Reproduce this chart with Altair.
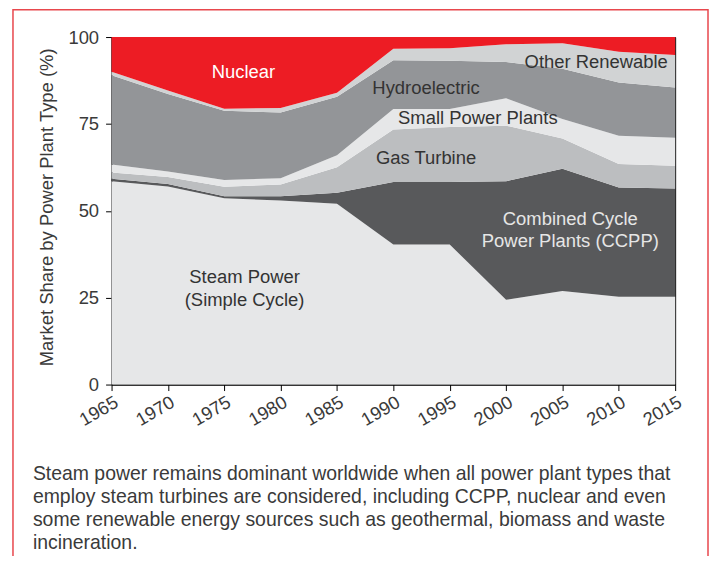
import altair as alt
import pandas as pd

years = [1965, 1970, 1975, 1980, 1985, 1990, 1995, 2000, 2005, 2010, 2015]

series = ["Steam Power", "Combined Cycle", "Gas Turbine", "Small Power Plants",
          "Hydroelectric", "Other Renewable", "Nuclear"]
colors = ["#e6e7e8", "#58595b", "#bcbec0", "#e6e7e8", "#939598", "#d1d3d4", "#ed1c24"]

steam = [58.5, 57.0, 53.6, 53.0, 52.0, 40.3, 40.3, 24.4, 26.9, 25.3, 25.3]
ccpp = [0.7, 0.7, 0.6, 1.2, 3.2, 18.0, 18.0, 34.1, 35.2, 31.4, 31.1]
gas = [1.8, 2.0, 2.7, 3.4, 7.3, 15.1, 15.8, 16.0, 8.7, 6.8, 6.6]
small = [2.3, 1.6, 2.0, 1.8, 3.5, 5.9, 5.2, 7.9, 5.6, 8.1, 8.0]
hydro = [25.7, 22.3, 19.9, 18.9, 16.8, 14.0, 13.9, 10.4, 14.5, 15.3, 14.5]
other = [1.0, 1.0, 0.6, 1.3, 1.2, 3.3, 3.6, 5.1, 7.3, 8.9, 9.3]
nuclear = [10.0, 15.4, 20.6, 20.4, 16.0, 3.4, 3.2, 2.1, 1.8, 4.2, 5.2]
values = [steam, ccpp, gas, small, hydro, other, nuclear]

label_text = ["Nuclear", "Hydroelectric", "Small Power Plants", "Gas Turbine",
              "Other Renewable", "Combined Cycle\nPower Plants (CCPP)",
              "Steam Power\n(Simple Cycle)"]
label_year = [1976.7, 1992.9, 1997.5, 1992.9, 2008.0, 2005.7, 1976.8]
label_pct = [88.2, 83.7, 75.1, 63.5, 91.2, 46.0, 29.1]
label_color = ["#ffffff", "#333333", "#333333", "#333333", "#333333", "#e6e6e6", "#333333"]

y_ticks = [0, 25, 50, 75, 100]
y_title = "Market Share by Power Plant Type (%)"
caption = ["Steam power remains dominant worldwide when all power plant types that",
           "employ steam turbines are considered, including CCPP, nuclear and even",
           "some renewable energy sources such as geothermal, biomass and waste",
           "incineration."]

rows = []
for i, (name, vals) in enumerate(zip(series, values)):
    for yr, v in zip(years, vals):
        rows.append({"year": yr, "series": name, "share": v, "order": i})
df = pd.DataFrame(rows)

labels_df = pd.DataFrame({"label": label_text, "year": label_year,
                          "share": label_pct, "color": label_color})

FONT = "Liberation Sans"
TXT = "#3a3a3a"

xscale = alt.Scale(domain=[1965, 2015], nice=False, zero=False)
yscale = alt.Scale(domain=[0, 100], nice=False)

xaxis = alt.Axis(values=years, format="d", labelAngle=330,
                 labelAlign="right", labelBaseline="top",
                 labelPadding=2, tickSize=6, title=None, grid=False,
                 labelFontSize=18.5, labelColor=TXT, labelFont=FONT,
                 domainColor="#000000", tickColor="#000000")
yaxis = alt.Axis(values=y_ticks, title=y_title, grid=False,
                 tickSize=6, labelPadding=7, labelFontSize=18.5,
                 labelColor=TXT, labelFont=FONT,
                 titleFontSize=18.5, titleFontWeight="normal",
                 titleColor=TXT, titleFont=FONT, titleAngle=270,
                 titleX=-59, titleY=170.5, titleAlign="center",
                 titleBaseline="alphabetic",
                 domainColor="#000000", tickColor="#000000")

areas = alt.Chart(df).mark_area(interpolate="linear").encode(
    x=alt.X("year:Q", scale=xscale, axis=xaxis),
    y=alt.Y("share:Q", stack="zero", scale=yscale, axis=yaxis),
    color=alt.Color("series:N", scale=alt.Scale(domain=series, range=colors), legend=None),
    order=alt.Order("order:Q", sort="ascending"),
)

texts = alt.Chart(labels_df).mark_text(
    font=FONT, fontSize=18.5, align="center", baseline="alphabetic",
    lineBreak="\n", lineHeight=22.2
).encode(
    x=alt.X("year:Q", scale=xscale, axis=xaxis),
    y=alt.Y("share:Q", scale=yscale, axis=yaxis),
    text="label:N",
    color=alt.Color("color:N", scale=None),
)

one = pd.DataFrame({"k": [0]})

cap = alt.Chart(one).mark_text(
    font=FONT, fontSize=19.5, align="left", baseline="alphabetic",
    lineHeight=23, color=TXT
).encode(x=alt.value(-79), y=alt.value(445), text=alt.value(caption))

border = alt.Chart(one).mark_rect(
    fillOpacity=0, stroke="#e8474d", strokeWidth=1.5
).encode(x=alt.value(-99), x2=alt.value(599), y=alt.value(-27.5), y2=alt.value(600))

chart = alt.layer(areas, texts, cap, border).properties(
    width=566, height=349,
    autosize=alt.AutoSizeParams(type="none"),
    padding={"left": 104, "top": 28, "right": 34, "bottom": 171},
).configure(
    font=FONT,
    view=alt.ViewConfig(stroke="#000000", strokeWidth=1),
)

chart.save("out.html", embed_options={"renderer": "svg", "actions": False})
